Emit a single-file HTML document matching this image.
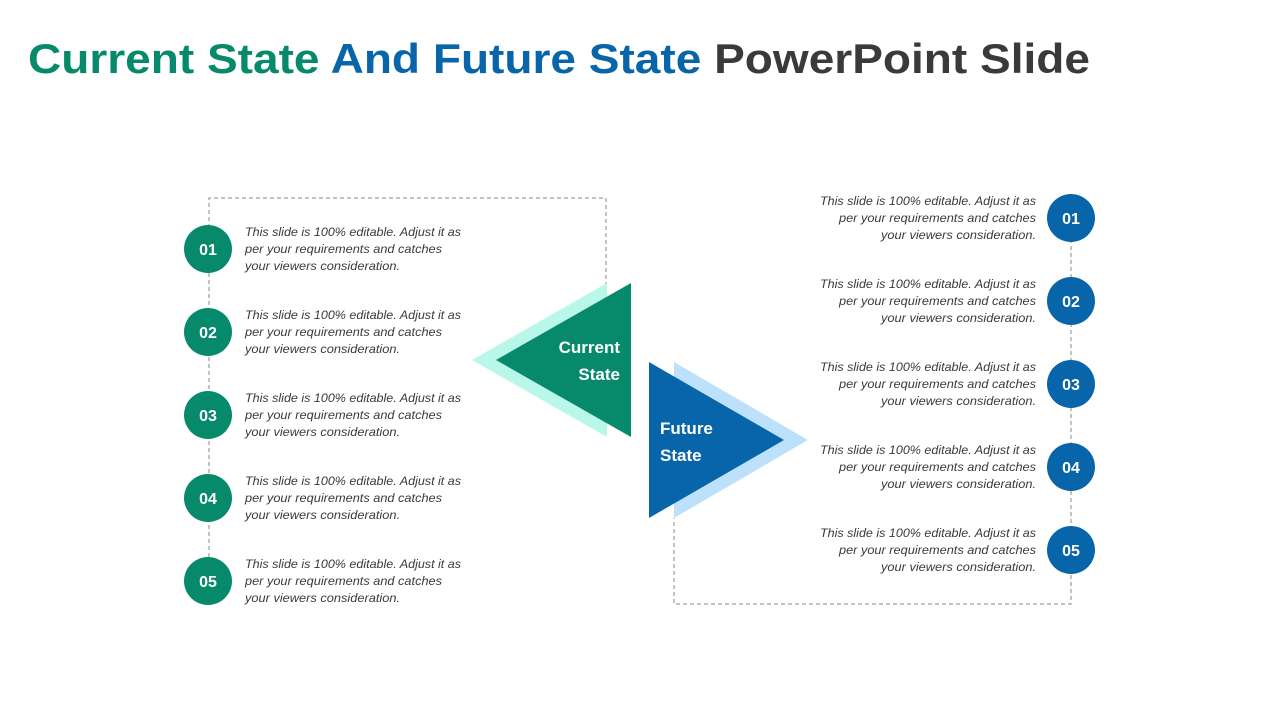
<!DOCTYPE html>
<html><head><meta charset="utf-8"><style>
html,body{margin:0;padding:0;background:#fff;}
svg{display:block}
</style></head><body>
<svg width="1280" height="720" viewBox="0 0 1280 720" xmlns="http://www.w3.org/2000/svg" font-family="Liberation Sans, sans-serif">
<text x="28" y="73" font-size="42" font-weight="bold" textLength="1062" lengthAdjust="spacingAndGlyphs"><tspan fill="#078a6c">Current State </tspan><tspan fill="#0865a9">And Future State </tspan><tspan fill="#3a3a3a">PowerPoint Slide</tspan></text>
<g fill="none" stroke="#888" stroke-width="1" stroke-dasharray="4,3">
<path d="M209 585 V198 H606 V284"/>
<path d="M1071 218 V604 H674 V518"/>
</g>
<polygon points="472,360 607,283 607,437" fill="#b8f7ea"/>
<polygon points="496,360 631,283 631,437" fill="#078a6c"/>
<polygon points="808,440 674,362 674,518" fill="#bde0fb"/>
<polygon points="784,440 649,362 649,518" fill="#0865a9"/>
<g fill="#fff" font-weight="bold" font-size="17">
<text x="620" y="353" text-anchor="end">Current</text>
<text x="620" y="380" text-anchor="end">State</text>
<text x="660" y="434">Future</text>
<text x="660" y="461">State</text>
</g>
<g font-size="12" font-style="italic" fill="#3a3a3a">
<g id="L">
<circle cx="208" cy="249" r="24" fill="#078a6c"/>
<text x="208" y="255" text-anchor="middle" fill="#fff" font-style="normal" font-weight="bold" font-size="16">01</text>
<text x="245" y="236" textLength="216" lengthAdjust="spacingAndGlyphs">This slide is 100% editable. Adjust it as</text>
<text x="245" y="253" textLength="197" lengthAdjust="spacingAndGlyphs">per your requirements and catches</text>
<text x="245" y="270" textLength="155" lengthAdjust="spacingAndGlyphs">your viewers consideration.</text>
</g>
<g transform="translate(0,83)">
<circle cx="208" cy="249" r="24" fill="#078a6c"/>
<text x="208" y="255" text-anchor="middle" fill="#fff" font-style="normal" font-weight="bold" font-size="16">02</text>
<text x="245" y="236" textLength="216" lengthAdjust="spacingAndGlyphs">This slide is 100% editable. Adjust it as</text>
<text x="245" y="253" textLength="197" lengthAdjust="spacingAndGlyphs">per your requirements and catches</text>
<text x="245" y="270" textLength="155" lengthAdjust="spacingAndGlyphs">your viewers consideration.</text>
</g>
<g transform="translate(0,166)">
<circle cx="208" cy="249" r="24" fill="#078a6c"/>
<text x="208" y="255" text-anchor="middle" fill="#fff" font-style="normal" font-weight="bold" font-size="16">03</text>
<text x="245" y="236" textLength="216" lengthAdjust="spacingAndGlyphs">This slide is 100% editable. Adjust it as</text>
<text x="245" y="253" textLength="197" lengthAdjust="spacingAndGlyphs">per your requirements and catches</text>
<text x="245" y="270" textLength="155" lengthAdjust="spacingAndGlyphs">your viewers consideration.</text>
</g>
<g transform="translate(0,249)">
<circle cx="208" cy="249" r="24" fill="#078a6c"/>
<text x="208" y="255" text-anchor="middle" fill="#fff" font-style="normal" font-weight="bold" font-size="16">04</text>
<text x="245" y="236" textLength="216" lengthAdjust="spacingAndGlyphs">This slide is 100% editable. Adjust it as</text>
<text x="245" y="253" textLength="197" lengthAdjust="spacingAndGlyphs">per your requirements and catches</text>
<text x="245" y="270" textLength="155" lengthAdjust="spacingAndGlyphs">your viewers consideration.</text>
</g>
<g transform="translate(0,332)">
<circle cx="208" cy="249" r="24" fill="#078a6c"/>
<text x="208" y="255" text-anchor="middle" fill="#fff" font-style="normal" font-weight="bold" font-size="16">05</text>
<text x="245" y="236" textLength="216" lengthAdjust="spacingAndGlyphs">This slide is 100% editable. Adjust it as</text>
<text x="245" y="253" textLength="197" lengthAdjust="spacingAndGlyphs">per your requirements and catches</text>
<text x="245" y="270" textLength="155" lengthAdjust="spacingAndGlyphs">your viewers consideration.</text>
</g>
<!-- right -->
<g>
<circle cx="1071" cy="218" r="24" fill="#0865a9"/>
<text x="1071" y="224" text-anchor="middle" fill="#fff" font-style="normal" font-weight="bold" font-size="16">01</text>
<text x="820" y="205" textLength="216" lengthAdjust="spacingAndGlyphs">This slide is 100% editable. Adjust it as</text>
<text x="839" y="222" textLength="197" lengthAdjust="spacingAndGlyphs">per your requirements and catches</text>
<text x="881" y="239" textLength="155" lengthAdjust="spacingAndGlyphs">your viewers consideration.</text>
</g>
<g transform="translate(0,83)">
<circle cx="1071" cy="218" r="24" fill="#0865a9"/>
<text x="1071" y="224" text-anchor="middle" fill="#fff" font-style="normal" font-weight="bold" font-size="16">02</text>
<text x="820" y="205" textLength="216" lengthAdjust="spacingAndGlyphs">This slide is 100% editable. Adjust it as</text>
<text x="839" y="222" textLength="197" lengthAdjust="spacingAndGlyphs">per your requirements and catches</text>
<text x="881" y="239" textLength="155" lengthAdjust="spacingAndGlyphs">your viewers consideration.</text>
</g>
<g transform="translate(0,166)">
<circle cx="1071" cy="218" r="24" fill="#0865a9"/>
<text x="1071" y="224" text-anchor="middle" fill="#fff" font-style="normal" font-weight="bold" font-size="16">03</text>
<text x="820" y="205" textLength="216" lengthAdjust="spacingAndGlyphs">This slide is 100% editable. Adjust it as</text>
<text x="839" y="222" textLength="197" lengthAdjust="spacingAndGlyphs">per your requirements and catches</text>
<text x="881" y="239" textLength="155" lengthAdjust="spacingAndGlyphs">your viewers consideration.</text>
</g>
<g transform="translate(0,249)">
<circle cx="1071" cy="218" r="24" fill="#0865a9"/>
<text x="1071" y="224" text-anchor="middle" fill="#fff" font-style="normal" font-weight="bold" font-size="16">04</text>
<text x="820" y="205" textLength="216" lengthAdjust="spacingAndGlyphs">This slide is 100% editable. Adjust it as</text>
<text x="839" y="222" textLength="197" lengthAdjust="spacingAndGlyphs">per your requirements and catches</text>
<text x="881" y="239" textLength="155" lengthAdjust="spacingAndGlyphs">your viewers consideration.</text>
</g>
<g transform="translate(0,332)">
<circle cx="1071" cy="218" r="24" fill="#0865a9"/>
<text x="1071" y="224" text-anchor="middle" fill="#fff" font-style="normal" font-weight="bold" font-size="16">05</text>
<text x="820" y="205" textLength="216" lengthAdjust="spacingAndGlyphs">This slide is 100% editable. Adjust it as</text>
<text x="839" y="222" textLength="197" lengthAdjust="spacingAndGlyphs">per your requirements and catches</text>
<text x="881" y="239" textLength="155" lengthAdjust="spacingAndGlyphs">your viewers consideration.</text>
</g>
</g>
</svg>
</body></html>
